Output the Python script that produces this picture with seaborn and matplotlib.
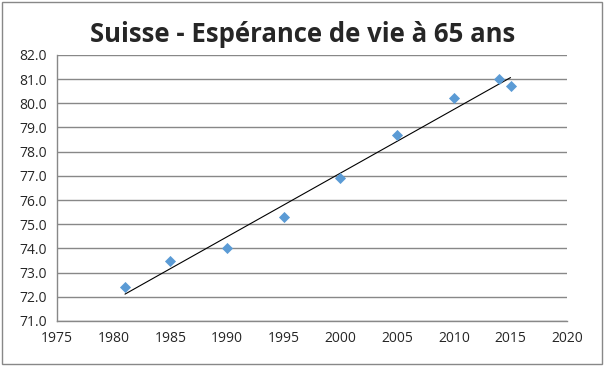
import matplotlib
matplotlib.use("Agg")
import matplotlib.pyplot as plt
import seaborn as sns
import pandas as pd
from matplotlib.patches import Rectangle

years = [1981, 1985, 1990, 1995, 2000, 2005, 2010, 2014, 2015]
esperance = [72.4, 73.5, 74.0, 75.3, 76.9, 78.7, 80.2, 81.0, 80.7]
xticks = [1975, 1980, 1985, 1990, 1995, 2000, 2005, 2010, 2015, 2020]
yticks = [71.0, 72.0, 73.0, 74.0, 75.0, 76.0, 77.0, 78.0, 79.0, 80.0, 81.0, 82.0]

df = pd.DataFrame({"annee": years, "esperance": esperance})

sns.set_style("white")
plt.rcParams["font.family"] = ["Open Sans", "DejaVu Sans"]

fig = plt.figure(figsize=(6.06, 3.66), dpi=100)
ax = fig.add_axes([0.094, 0.123, 0.842, 0.727])

# grey frame around the whole chart
fig.patches.append(Rectangle((0.004, 0.005), 0.99, 0.99, transform=fig.transFigure,
                             fill=False, edgecolor="#888888", linewidth=1))

sns.regplot(data=df, x="annee", y="esperance", ax=ax, scatter=False, ci=None,
            truncate=True, line_kws={"color": "black", "linewidth": 0.8})
sns.scatterplot(data=df, x="annee", y="esperance", ax=ax, marker="D", s=32,
                color="#5B9BD5", edgecolor="#5B9BD5", linewidth=0, zorder=3)

ax.set_xlim(1975, 2020)
ax.set_ylim(71, 82)
ax.set_xticks(xticks)
ax.set_yticks(yticks)
ax.set_yticklabels([f"{v:.1f}" for v in yticks])
ax.set_xlabel("")
ax.set_ylabel("")
ax.grid(axis="y", color="#888888", linewidth=1)
ax.set_axisbelow(True)

for side in ["top", "right"]:
    ax.spines[side].set_visible(False)
for side in ["left", "bottom"]:
    ax.spines[side].set_color("#888888")
    ax.spines[side].set_linewidth(1)
ax.tick_params(axis="both", direction="out", length=4, width=1, color="#888888",
               labelsize=10, pad=3)

fig.text(0.5, 0.905, "Suisse - Espérance de vie à 65 ans", ha="center", va="center",
         fontsize=18.5, fontweight="bold")

fig.savefig("out.png", dpi=100)
